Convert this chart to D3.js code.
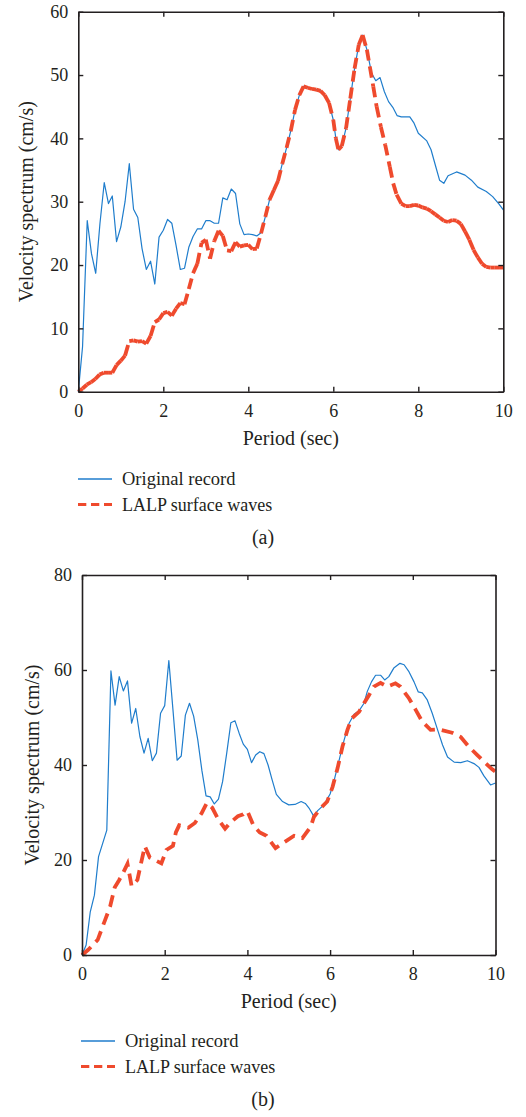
<!DOCTYPE html>
<html><head><meta charset="utf-8">
<script src="https://cdn.jsdelivr.net/npm/d3@7"></script>
<style>
html,body{margin:0;padding:0;background:#fff;}
text{font-family:"Liberation Serif","Times New Roman",serif;fill:#231f20;}
</style></head>
<body>
<svg id="c" width="526" height="1117"></svg>
<script>
// ---------- DATA ----------
const xTicks = [0, 2, 4, 6, 8, 10];
const yTicksA = [0, 10, 20, 30, 40, 50, 60];
const yTicksB = [0, 20, 40, 60, 80];
const xLabel = "Period (sec)";
const yLabel = "Velocity spectrum (cm/s)";
const seriesNames = ["Original record", "LALP surface waves"];
const panelLabels = ["(a)", "(b)"];

// Panel (a): original record [period s, velocity cm/s]
const origA = [[0,0],[0.1,7.1],[0.21,27],[0.31,21.8],[0.41,18.7],[0.51,26.6],[0.61,33],[0.71,29.7],[0.8,30.9],[0.9,23.7],[1.0,26],[1.1,30],[1.2,36],[1.3,28.8],[1.4,27.5],[1.5,22.6],[1.6,19.3],[1.7,20.6],[1.8,17],[1.9,24.4],[2.0,25.5],[2.1,27.2],[2.2,26.6],[2.3,23.1],[2.4,19.3],[2.5,19.5],[2.6,22.8],[2.7,24.5],[2.8,25.7],[2.9,25.7],[3.0,27],[3.1,27],[3.2,26.6],[3.3,26.6],[3.4,30.6],[3.5,30.3],[3.6,32],[3.7,31.3],[3.8,26.5],[3.9,24.8],[4.0,24.9],[4.1,24.8],[4.2,24.6],[4.3,25.1],[4.4,27.6],[4.5,30.3],[4.6,31.8],[4.7,33.3],[4.8,36],[4.9,38.5],[5.0,41.2],[5.1,44.5],[5.2,46.8],[5.3,48.2],[5.4,48],[5.5,47.8],[5.6,47.7],[5.7,47.5],[5.8,46.8],[5.9,45.6],[6.0,42.9],[6.06,40],[6.12,38.2],[6.2,38.8],[6.3,41.6],[6.4,46.3],[6.5,51],[6.6,54.8],[6.69,56.3],[6.79,54],[6.9,50.3],[7.0,49.1],[7.1,49.6],[7.2,47.4],[7.3,45.8],[7.4,44.9],[7.5,43.6],[7.6,43.4],[7.8,43.4],[7.9,42.4],[8.0,40.8],[8.2,39.6],[8.3,38.2],[8.4,35.8],[8.5,33.4],[8.6,32.9],[8.7,34.1],[8.9,34.7],[9.1,34.2],[9.25,33.4],[9.4,32.3],[9.6,31.6],[9.75,30.8],[9.9,29.6],[10,28.7]];
// Panel (a): LALP surface waves
const lalpA = [[0,0],[0.1,0.5],[0.2,1.1],[0.3,1.5],[0.4,2.0],[0.5,2.7],[0.6,3.0],[0.7,3.0],[0.8,3.0],[0.9,4.2],[1.0,4.9],[1.1,5.7],[1.2,8.0],[1.3,8.1],[1.4,7.9],[1.5,8.0],[1.6,7.6],[1.7,8.8],[1.8,11],[1.9,11.4],[2.0,12.4],[2.1,12.6],[2.2,12.0],[2.3,13.1],[2.4,14.0],[2.5,13.8],[2.6,16.2],[2.7,18.7],[2.8,20.2],[2.9,23.5],[3.0,24],[3.1,21],[3.2,23.8],[3.3,25.4],[3.4,24.6],[3.5,22.3],[3.6,22.2],[3.7,23.6],[3.8,22.9],[3.9,23.1],[4.0,23.2],[4.1,22.5],[4.2,22.6],[4.3,25],[4.4,27.6],[4.5,30.3],[4.6,31.8],[4.7,33.3],[4.8,36],[4.9,38.5],[5.0,41.2],[5.1,44.5],[5.2,46.8],[5.3,48.2],[5.4,48],[5.5,47.8],[5.6,47.7],[5.7,47.5],[5.8,46.8],[5.9,45.6],[6.0,42.9],[6.06,40],[6.12,38.2],[6.2,38.8],[6.3,41.6],[6.4,46.3],[6.5,51],[6.6,54.8],[6.69,56.3],[6.79,54],[6.86,51.3],[6.94,48.2],[7.02,45],[7.12,41.8],[7.22,39],[7.33,35.5],[7.41,32.9],[7.49,31.1],[7.6,29.7],[7.7,29.3],[7.8,29.3],[7.9,29.5],[8.0,29.4],[8.1,29.1],[8.2,28.9],[8.3,28.5],[8.4,28],[8.5,27.5],[8.6,27],[8.7,26.8],[8.8,27.1],[8.9,27],[9.0,26.5],[9.1,25.3],[9.2,24],[9.3,22.4],[9.4,21.2],[9.5,20.2],[9.6,19.7],[9.7,19.6],[9.8,19.6],[9.9,19.6],[10,19.6]];

// Panel (b): original record
const origB = [[0,0],[0.1,2.1],[0.2,9.1],[0.3,12.6],[0.4,20.7],[0.5,23.5],[0.6,26.3],[0.7,59.8],[0.8,52.6],[0.9,58.6],[1.0,55.6],[1.1,57.7],[1.2,48.8],[1.3,51.9],[1.4,46],[1.5,42.5],[1.6,45.6],[1.7,40.9],[1.8,42.5],[1.9,50.9],[2.0,52.5],[2.1,62],[2.2,51.6],[2.3,41],[2.4,41.9],[2.5,50.5],[2.6,53],[2.7,50.3],[2.8,45.3],[2.9,38.8],[3.0,33.5],[3.1,33.3],[3.2,31.8],[3.3,32.8],[3.4,36.5],[3.5,42.5],[3.6,48.9],[3.7,49.3],[3.8,46.7],[3.9,44.4],[4.0,43.3],[4.1,40.5],[4.2,42.1],[4.3,42.8],[4.4,42.4],[4.5,40],[4.6,36.8],[4.7,33.8],[4.85,32.3],[5.0,31.6],[5.15,31.7],[5.3,32.3],[5.4,31.9],[5.5,30.8],[5.6,29.3],[5.7,30.4],[5.85,31.6],[6.0,33.9],[6.1,36.8],[6.22,41.1],[6.34,45.3],[6.46,48.8],[6.58,50.7],[6.7,51.4],[6.82,53],[6.9,55.5],[7.0,57.5],[7.1,58.9],[7.22,58.9],[7.32,57.9],[7.42,58.6],[7.54,60.4],[7.69,61.4],[7.79,61.1],[7.91,59.6],[8.03,57.5],[8.13,55.4],[8.23,55.2],[8.35,53.7],[8.47,50.9],[8.6,47.4],[8.72,44.2],[8.84,41.7],[9.0,40.6],[9.16,40.5],[9.32,40.9],[9.48,40.3],[9.6,39.5],[9.72,37.7],[9.88,35.8],[10,36.2]];
// Panel (b): LALP surface waves
const lalpB = [[0,0],[0.15,1.1],[0.38,3.2],[0.47,5.3],[0.56,7.4],[0.68,10.2],[0.79,14.2],[0.9,15.8],[1.0,17.4],[1.1,19.2],[1.2,14.5],[1.34,15.8],[1.42,19],[1.52,22.9],[1.64,20.5],[1.76,20],[1.92,19.3],[2.04,22.1],[2.2,23],[2.27,25.8],[2.35,27.3],[2.57,26.8],[2.73,27.8],[2.89,29.8],[3.02,32],[3.15,31],[3.3,28.5],[3.46,26.6],[3.59,27.9],[3.77,29.2],[3.9,29.6],[4.0,30.3],[4.15,27.2],[4.3,25.8],[4.46,25.1],[4.68,22.5],[4.85,23.5],[5.13,25.1],[5.33,24.6],[5.53,27],[5.61,29.1],[5.77,30.9],[5.93,32.3],[6.06,35.4],[6.18,39.3],[6.3,43.9],[6.42,47.4],[6.52,49.8],[6.7,51.2],[6.82,53],[6.94,54.7],[7.06,56.5],[7.22,57.3],[7.38,56.5],[7.58,57.2],[7.7,56.5],[7.91,54],[8.07,51.6],[8.23,49.1],[8.43,47.4],[8.63,47.5],[8.95,46.8],[9.16,45.9],[9.36,43.8],[9.56,42.1],[9.76,40.4],[9.92,39.1],[10,38.6]];

// ---------- DRAW ----------
const BLUE = "#1f7dcc", RED = "#ef4a2d", INK = "#231f20";
const svg = d3.select("#c");

function panel(cfg) {
  const x = d3.scaleLinear().domain([0, 10]).range([cfg.x0, cfg.x1]);
  const y = d3.scaleLinear().domain([0, cfg.ymax]).range([cfg.y0, cfg.y1]);
  const g = svg.append("g");
  const line = d3.line().x(d => x(d[0])).y(d => y(d[1]));

  g.append("path").datum(cfg.orig).attr("d", line)
    .attr("fill", "none").attr("stroke", BLUE).attr("stroke-width", 1.2)
    .attr("stroke-linejoin", "round");

  if (cfg.segmented) {
    // dash pattern restarts on each data segment (as in the source renderer)
    g.append("g").selectAll("path").data(d3.pairs(cfg.lalp)).join("path")
      .attr("d", d => line(d))
      .attr("fill", "none").attr("stroke", RED).attr("stroke-width", 3.8)
      .attr("stroke-dasharray", cfg.dash);
  } else {
    g.append("path").datum(cfg.lalp).attr("d", line)
      .attr("fill", "none").attr("stroke", RED).attr("stroke-width", 3.8)
      .attr("stroke-dasharray", cfg.dash);
  }

  // axes (ticks inward, boxed)
  const tl = 5;
  const axB = g.append("g").attr("transform", `translate(0,${cfg.y0})`)
    .call(d3.axisBottom(x).tickValues(xTicks).tickSizeInner(-tl).tickSizeOuter(0).tickPadding(10));
  const axT = g.append("g").attr("transform", `translate(0,${cfg.y1})`)
    .call(d3.axisTop(x).tickValues(xTicks).tickSizeInner(-tl).tickSizeOuter(0).tickFormat(""));
  const axL = g.append("g").attr("transform", `translate(${cfg.x0},0)`)
    .call(d3.axisLeft(y).tickValues(cfg.yticks).tickSizeInner(-tl).tickSizeOuter(0).tickPadding(10));
  const axR = g.append("g").attr("transform", `translate(${cfg.x1},0)`)
    .call(d3.axisRight(y).tickValues(cfg.yticks).tickSizeInner(-tl).tickSizeOuter(0).tickFormat(""));
  [axB, axT, axL, axR].forEach(a => {
    a.select(".domain").attr("stroke", INK).attr("stroke-width", 1.6);
    a.selectAll(".tick line").attr("stroke", INK).attr("stroke-width", 1.4);
    a.selectAll("text").attr("font-family", "Liberation Serif, serif").attr("font-size", 18).attr("fill", INK);
  });
  axB.selectAll(".tick text").attr("dy", null).attr("y", 25 - 0);
  axB.selectAll(".tick text").attr("y", 0).attr("dy", 25);
  axB.selectAll(".tick text").attr("dominant-baseline", "auto");

  // axis titles
  g.append("text").attr("x", (cfg.x0 + cfg.x1) / 2).attr("y", cfg.y0 + 53)
    .attr("text-anchor", "middle").attr("font-size", 20).text(xLabel);
  g.append("text").attr("transform", `translate(${cfg.ylx},${(cfg.y0 + cfg.y1) / 2}) rotate(-90)`)
    .attr("text-anchor", "middle").attr("font-size", 20).text(yLabel);

  // legend
  const lg = g.append("g");
  lg.append("line").attr("x1", cfg.lgx).attr("x2", cfg.lgx + 34)
    .attr("y1", cfg.lgy).attr("y2", cfg.lgy).attr("stroke", BLUE).attr("stroke-width", 1.3);
  lg.append("line").attr("x1", cfg.lgx).attr("x2", cfg.lgx + 34)
    .attr("y1", cfg.lgy + 25.5).attr("y2", cfg.lgy + 25.5).attr("stroke", RED)
    .attr("stroke-width", 2.8).attr("stroke-dasharray", "8.3,4.7");
  lg.append("text").attr("x", cfg.lgx + 44).attr("y", cfg.lgy + 6).attr("font-size", 18.5).text(seriesNames[0]);
  lg.append("text").attr("x", cfg.lgx + 44).attr("y", cfg.lgy + 31.5).attr("font-size", 18).text(seriesNames[1]);

  g.append("text").attr("x", 263).attr("y", cfg.caption).attr("text-anchor", "middle")
    .attr("font-size", 20).text(cfg.label);
}

panel({x0: 78.3, x1: 503.3, y0: 391.7, y1: 11.7, ymax: 60, yticks: yTicksA,
  orig: origA, lalp: lalpA, segmented: true, dash: "11,6", ylx: 33,
  lgx: 78, lgy: 479, caption: 544, label: panelLabels[0]});
panel({x0: 82, x1: 495.5, y0: 955, y1: 575, ymax: 80, yticks: yTicksB,
  orig: origB, lalp: lalpB, segmented: false, dash: "12,7", ylx: 39,
  lgx: 81, lgy: 1041, caption: 1106, label: panelLabels[1]});
</script>
</body></html>
